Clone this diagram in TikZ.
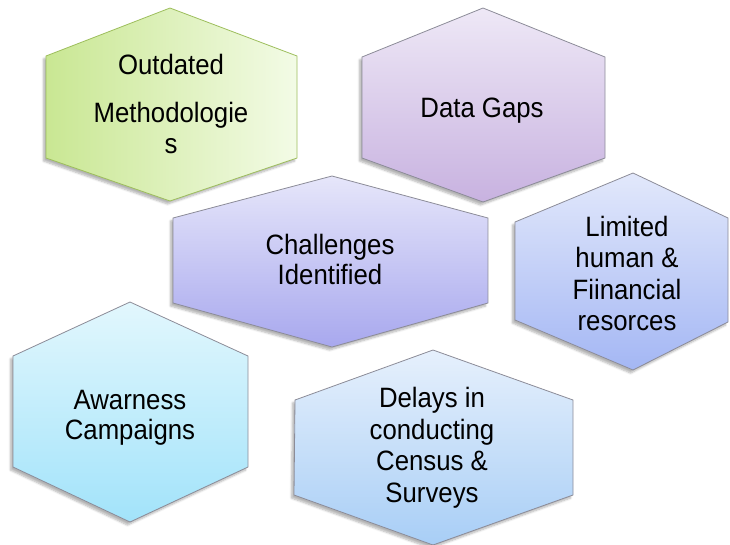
\documentclass[tikz,border=0pt]{standalone}
\usepackage{fontspec}
\setmainfont{Liberation Sans}[FakeStretch=0.92]
\usetikzlibrary{shadows.blur}
\definecolor{grnL}{HTML}{C9E793}
\definecolor{grnR}{HTML}{F3FBE6}
\definecolor{grnE}{HTML}{9DBE5C}
\definecolor{purT}{HTML}{EEE8F6}
\definecolor{purB}{HTML}{C8B2E0}
\definecolor{chT}{HTML}{E6E6FA}
\definecolor{chB}{HTML}{A8A8EE}
\definecolor{liT}{HTML}{E2E8FB}
\definecolor{liB}{HTML}{A4B7F4}
\definecolor{awT}{HTML}{E2F7FD}
\definecolor{awB}{HTML}{A2E3FA}
\definecolor{deT}{HTML}{E6F0FC}
\definecolor{deB}{HTML}{A8CEF6}
\definecolor{edgeG}{HTML}{8C8C98}
\begin{document}
\begin{tikzpicture}[x=1pt,y=-1pt,
  hexa/.style={line width=0.8pt, draw=edgeG, line join=miter,
    blur shadow={shadow xshift=-2.5pt, shadow yshift=-3pt, shadow blur steps=6, shadow opacity=30}},
  lbl/.style={font=\fontsize{28}{31.5}\selectfont, align=center, inner sep=0pt, text=black}]
\useasboundingbox (0,0) rectangle (730,544);
% Outdated Methodologies
\path[hexa, draw=grnE, left color=grnL, right color=grnR]
  (170,8) -- (297,56) -- (297,158) -- (170,201) -- (46,158) -- (46,56) -- cycle;
% Data Gaps
\path[hexa, top color=purT, bottom color=purB]
  (483,8) -- (605,57) -- (605,158) -- (483,202) -- (362,158) -- (362,57) -- cycle;
% Challenges Identified
\path[hexa, top color=chT, bottom color=chB]
  (332,176) -- (488,218) -- (488,303) -- (332,347) -- (173,303) -- (173,218) -- cycle;
% Limited human & financial resources
\path[hexa, top color=liT, bottom color=liB]
  (633,173) -- (728,218) -- (728,322) -- (633,370) -- (515,320) -- (515,222) -- cycle;
% Awarness Campaigns
\path[hexa, top color=awT, bottom color=awB]
  (130,302) -- (248,356) -- (248,467) -- (130,522) -- (13,467) -- (13,356) -- cycle;
% Delays
\path[hexa, top color=deT, bottom color=deB]
  (433,350) -- (573,400) -- (573,495) -- (433,545) -- (294,495) -- (295,400) -- cycle;

\node[lbl] (outd) at (171,104) {Outdated\\[16.5pt]Methodologie\\s};
\node[lbl, anchor=base] (gaps) at (482,117) {Data Gaps};
\node[lbl] (chal) at (330,259.5) {Challenges\\[-1.5pt]Identified};
\node[lbl] (limi) at (627,273.5) {Limited\\human \&\\Fiinancial\\resorces};
\node[lbl] (awar) at (130,418) {Awarness\\[-1.5pt]Campaigns};
\node[lbl] (dela) at (432,448) {Delays in\\conducting\\Census \&\\Surveys};
\end{tikzpicture}
\end{document}
